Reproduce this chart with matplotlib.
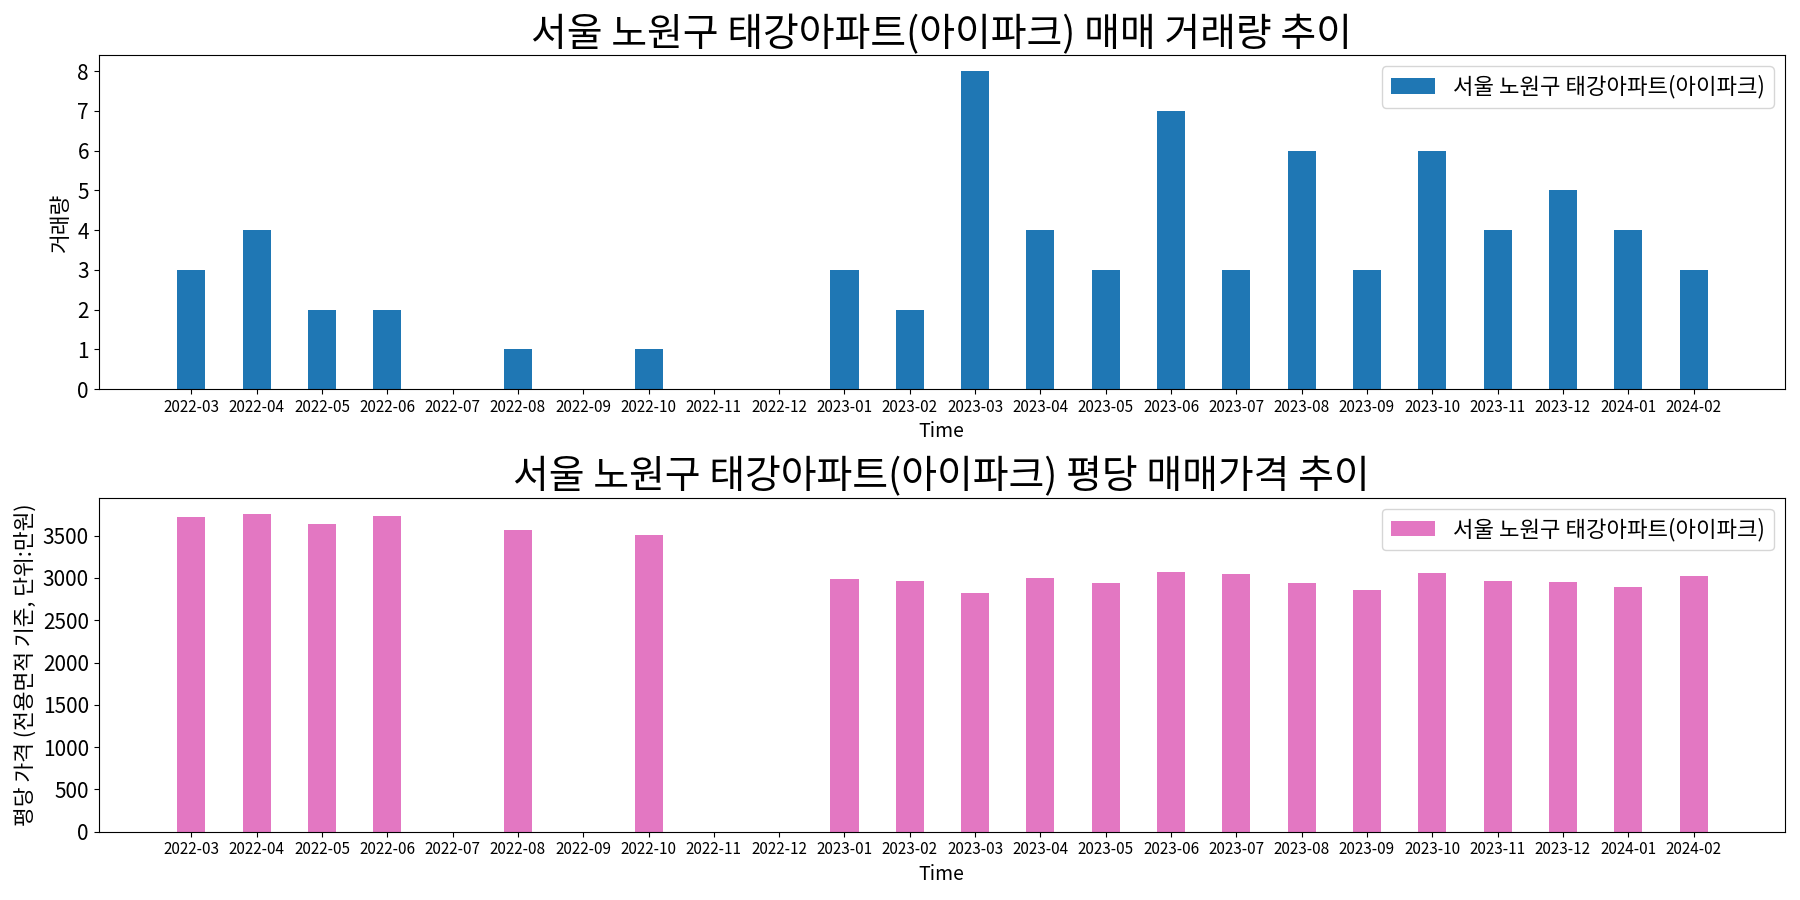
import matplotlib
matplotlib.use("Agg")
import matplotlib.pyplot as plt
import numpy as np

plt.rcParams["font.family"] = ["Noto Sans CJK KR", "DejaVu Sans"]
plt.rcParams["axes.unicode_minus"] = False

# Data
months = [
    "2022-03", "2022-04", "2022-05", "2022-06", "2022-07", "2022-08",
    "2022-09", "2022-10", "2022-11", "2022-12", "2023-01", "2023-02",
    "2023-03", "2023-04", "2023-05", "2023-06", "2023-07", "2023-08",
    "2023-09", "2023-10", "2023-11", "2023-12", "2024-01", "2024-02",
]
volume = [3, 4, 2, 2, 0, 1, 0, 1, 0, 0, 3, 2, 8, 4, 3, 7, 3, 6, 3, 6, 4, 5, 4, 3]
price = [
    3726, 3760, 3632, 3737, 0, 3562, 0, 3504, 0, 0, 2991, 2967,
    2827, 3002, 2944, 3072, 3049, 2944, 2862, 3060, 2967, 2956, 2897, 3026,
]
name = "서울 노원구 태강아파트(아이파크)"

x = np.arange(len(months))

fig, (ax1, ax2) = plt.subplots(2, 1, figsize=(18, 9), dpi=100)

# Volume
ax1.bar(x, volume, width=0.43, color="#1f77b4", label=name)
ax1.set_title(f"{name} 매매 거래량 추이", fontsize=28)
ax1.set_ylabel("거래량", fontsize=15.5)
ax1.set_xlabel("Time", fontsize=14)
ax1.set_xticks(x)
ax1.set_xticklabels(months, fontsize=11)
ax1.set_yticks(range(0, 9))
ax1.tick_params(axis="y", labelsize=15)
ax1.set_xlim(-1.42, 24.4)
ax1.legend(loc="upper right", fontsize=16)

# Price per pyeong
ax2.bar(x, price, width=0.43, color="#e377c2", label=name)
ax2.set_title(f"{name} 평당 매매가격 추이", fontsize=28)
ax2.set_ylabel("평당 가격 (전용면적 기준, 단위:만원)", fontsize=15.5)
ax2.set_xlabel("Time", fontsize=14)
ax2.set_xticks(x)
ax2.set_xticklabels(months, fontsize=11)
ax2.tick_params(axis="y", labelsize=15)
ax2.set_xlim(-1.42, 24.4)
ax2.legend(loc="upper right", fontsize=16)

plt.tight_layout()
plt.savefig("out.png", dpi=100)
